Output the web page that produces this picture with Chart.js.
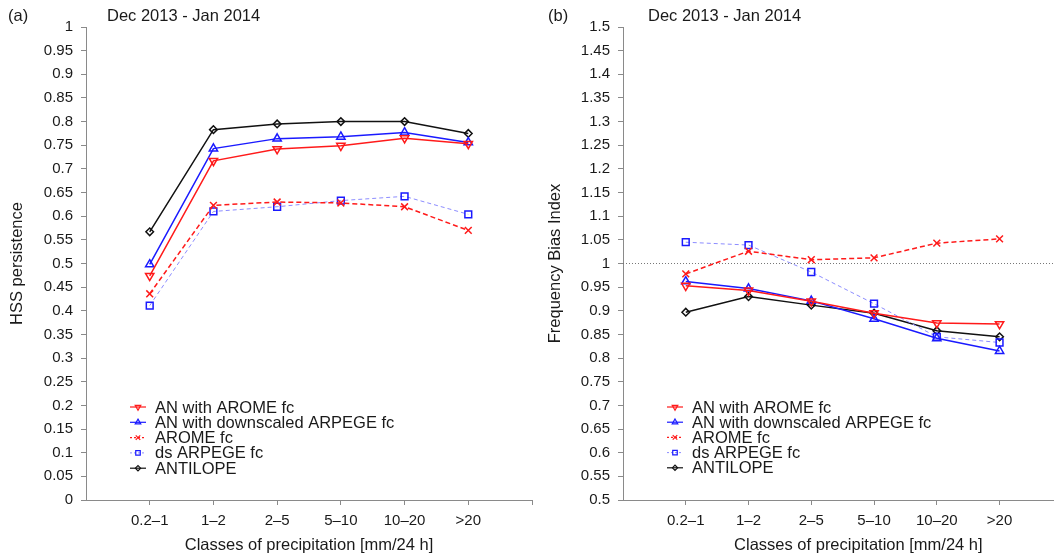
<!DOCTYPE html>
<html>
<head>
<meta charset="utf-8">
<script src="https://cdn.jsdelivr.net/npm/chart.js@4/dist/chart.umd.min.js"></script>
<style>
  html, body { margin: 0; padding: 0; background: #fff; overflow: hidden; width: 1054px; height: 556px; }
  canvas { position: absolute; top: 0; }
  #hss { left: 0; }
  #fbi { left: 540px; }
</style>
</head>
<body>
<canvas id="hss" width="540" height="556"></canvas>
<canvas id="fbi" width="560" height="556"></canvas>
<script>
// Precipitation classes on the x axis
const categories = ['0.2\u20131', '1\u20132', '2\u20135', '5\u201310', '10\u201320', '>20'];
const seriesNames = ['AN with AROME fc', 'AN with downscaled ARPEGE fc', 'AROME fc', 'ds ARPEGE fc', 'ANTILOPE'];

// Heidke skill score (persistence reference), Dec 2013 - Jan 2014
const hssAnArome     = [0.474, 0.717, 0.742, 0.749, 0.765, 0.753];
const hssAnDsArpege  = [0.498, 0.743, 0.764, 0.768, 0.777, 0.756];
const hssArome       = [0.436, 0.623, 0.630, 0.628, 0.620, 0.570];
const hssDsArpege    = [0.411, 0.610, 0.620, 0.633, 0.642, 0.604];
const hssAntilope    = [0.567, 0.783, 0.795, 0.800, 0.800, 0.775];

// Frequency bias index, Dec 2013 - Jan 2014
const fbiAnArome     = [0.953, 0.943, 0.920, 0.895, 0.874, 0.872];
const fbiAnDsArpege  = [0.962, 0.947, 0.921, 0.883, 0.842, 0.815];
const fbiArome       = [0.978, 1.026, 1.008, 1.012, 1.043, 1.052];
const fbiDsArpege    = [1.045, 1.039, 0.982, 0.915, 0.845, 0.833];
const fbiAntilope    = [0.897, 0.930, 0.912, 0.895, 0.858, 0.845];

// Unbiased reference level for the frequency bias index
const fbiReference = 1;

const FAMILY = '"Liberation Sans", Arial, Helvetica, sans-serif';
const TICK_FONT = { family: FAMILY, size: 15 };
const LABEL_FONT = { family: FAMILY, size: 16.5 };
const TEXT = '#1a1a1a';
const AXIS = '#8a8a8a';
const RED = '#ff1a1a';
const BLUE = '#1a1aff';
const LIGHTBLUE = '#8c8cff';

const styles = [
  { borderColor: RED,  pointBorderColor: RED,  pointStyle: 'triangle', pointRotation: 180, pointRadius: 4.8, borderWidth: 1.5, borderDash: [] },
  { borderColor: BLUE, pointBorderColor: BLUE, pointStyle: 'triangle', pointRotation: 0,   pointRadius: 4.8, borderWidth: 1.5, borderDash: [] },
  { borderColor: RED,  pointBorderColor: RED,  pointStyle: 'crossRot', pointRotation: 0,   pointRadius: 4.8, borderWidth: 1.5, borderDash: [5, 3] },
  { borderColor: LIGHTBLUE, pointBorderColor: BLUE, pointStyle: 'rect', pointRotation: 0,  pointRadius: 4.8, borderWidth: 1,   borderDash: [4, 3] },
  { borderColor: '#111', pointBorderColor: '#111', pointStyle: 'rectRot', pointRotation: 0, pointRadius: 3.8, borderWidth: 1.5, borderDash: [] }
];

function buildDatasets(seriesList) {
  return seriesList.map((values, i) => Object.assign({
    label: seriesNames[i],
    data: values.map((v, k) => ({ x: k + 1, y: v })),
    pointBackgroundColor: 'rgba(255,255,255,0)',
    pointBorderWidth: 1.5,
    pointHoverRadius: 4.8,
    fill: false,
    tension: 0
  }, styles[i]));
}

// Draws the panel letter, the period caption and the in-plot legend
const decorPlugin = {
  id: 'decor',
  afterDraw(chart, args, opts) {
    const { ctx, chartArea } = chart;
    ctx.save();
    ctx.font = LABEL_FONT.size + 'px ' + FAMILY;
    ctx.fillStyle = TEXT;
    ctx.textBaseline = 'middle';
    ctx.textAlign = 'left';
    ctx.fillText(opts.letter, 8, 16);
    ctx.fillText(opts.period, opts.periodX, 16);

    const mx = chartArea.left + 52;
    const tx = chartArea.left + 69;
    chart.data.datasets.forEach((ds, i) => {
      if (!ds.label) return;
      const y = opts.legendTop + i * opts.legendStep;
      ctx.save();
      ctx.lineWidth = Math.min(ds.borderWidth, 1.2);
      ctx.strokeStyle = ds.borderColor;
      ctx.setLineDash(ds.borderDash && ds.borderDash.length ? [2, 2] : []);
      ctx.beginPath();
      ctx.moveTo(mx - 8, y);
      ctx.lineTo(mx + 8, y);
      ctx.stroke();
      ctx.setLineDash([]);
      ctx.strokeStyle = ds.pointBorderColor;
      ctx.fillStyle = 'rgba(255,255,255,0)';
      ctx.lineWidth = 1.2;
      Chart.helpers.drawPoint(ctx, {
        pointStyle: ds.pointStyle,
        rotation: ds.pointRotation || 0,
        radius: ds.pointStyle === 'rectRot' ? 2.6 : 3.2,
        borderWidth: 1.2
      }, mx, y);
      ctx.restore();
      ctx.fillStyle = TEXT;
      ctx.fillText(ds.label, tx, y + 1);
    });
    ctx.restore();
  }
};

function makeChart(canvasId, cfg) {
  return new Chart(document.getElementById(canvasId), {
    type: 'line',
    data: { datasets: cfg.datasets },
    options: {
      responsive: false,
      animation: false,
      devicePixelRatio: 1,
      layout: { padding: { top: 27, left: 0, right: cfg.padRight, bottom: 0 } },
      plugins: {
        legend: { display: false },
        tooltip: { enabled: false },
        decor: cfg.decor
      },
      scales: {
        x: {
          type: 'linear',
          min: 0,
          max: cfg.xMax,
          afterBuildTicks: s => { s.ticks = categories.map((c, i) => ({ value: i + 1 })).concat([{ value: 7 }]); },
          afterFit: s => { s.height = 56; },
          ticks: {
            autoSkip: false, maxRotation: 0, padding: 7, color: TEXT, font: TICK_FONT,
            callback: v => categories[v - 1] !== undefined ? categories[v - 1] : ''
          },
          grid: { drawOnChartArea: false, drawTicks: true, tickLength: 5, color: AXIS, lineWidth: 1 },
          border: { display: true, color: AXIS, width: 1 },
          title: { display: true, text: 'Classes of precipitation [mm/24 h]', color: TEXT, font: LABEL_FONT, padding: { top: 4, bottom: 1 } }
        },
        y: {
          min: cfg.yMin,
          max: cfg.yMax,
          afterFit: s => { s.width = cfg.yWidth; },
          ticks: {
            stepSize: 0.05, autoSkip: false, padding: 8, color: TEXT, font: TICK_FONT,
            callback: v => String(Number(v.toFixed(2)))
          },
          grid: { drawOnChartArea: false, drawTicks: true, tickLength: 5, color: AXIS, lineWidth: 1 },
          border: { display: true, color: AXIS, width: 1 },
          title: { display: true, text: cfg.yTitle, color: TEXT, font: LABEL_FONT, padding: { top: cfg.yTitlePad, bottom: 4 } }
        }
      }
    },
    plugins: [decorPlugin]
  });
}

makeChart('hss', {
  datasets: buildDatasets([hssAnArome, hssAnDsArpege, hssArome, hssDsArpege, hssAntilope]),
  xMax: 7, padRight: 8, yMin: 0, yMax: 1, yWidth: 86,
  yTitle: 'HSS persistence', yTitlePad: 8,
  decor: { letter: '(a)', period: 'Dec 2013 - Jan 2014', periodX: 107, legendTop: 407, legendStep: 15.3 }
});

const fbiDatasets = buildDatasets([fbiAnArome, fbiAnDsArpege, fbiArome, fbiDsArpege, fbiAntilope]);
fbiDatasets.push({
  label: '',
  data: [{ x: 0, y: fbiReference }, { x: 7.5, y: fbiReference }],
  borderColor: '#777',
  borderWidth: 1,
  borderDash: [1, 2],
  pointRadius: 0,
  pointHoverRadius: 0
});

makeChart('fbi', {
  datasets: fbiDatasets,
  xMax: 7.5, padRight: 0, yMin: 0.5, yMax: 1.5, yWidth: 83,
  yTitle: 'Frequency Bias Index', yTitlePad: 6,
  decor: { letter: '(b)', period: 'Dec 2013 - Jan 2014', periodX: 108, legendTop: 407, legendStep: 15.2 }
});
</script>
</body>
</html>
